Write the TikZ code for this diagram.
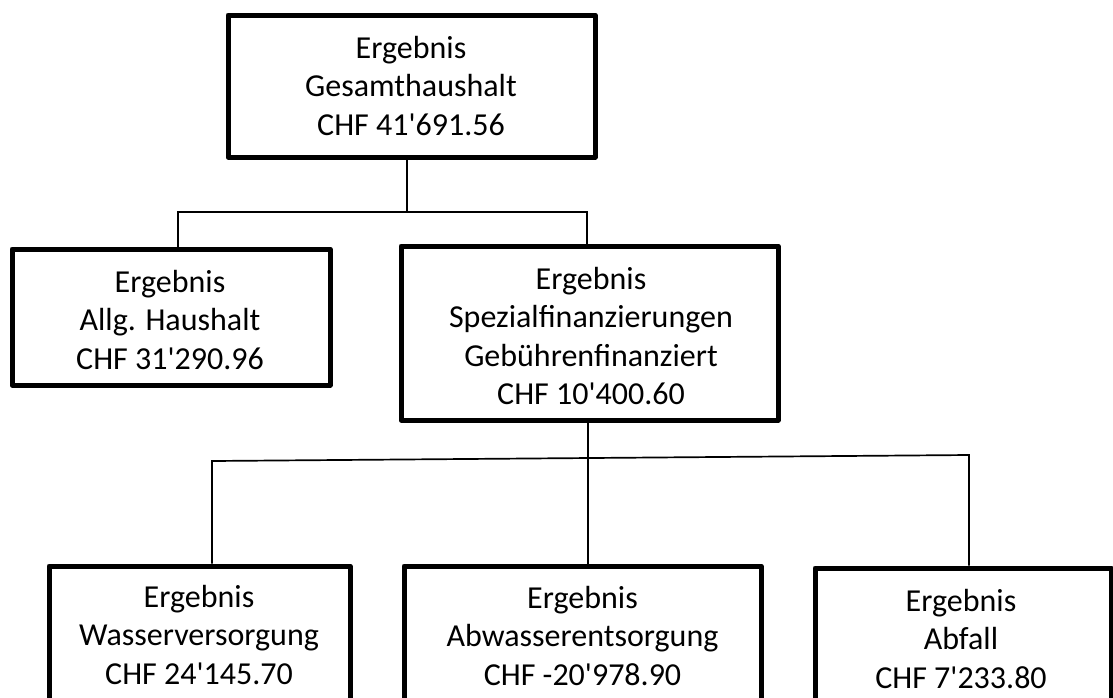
\documentclass[tikz,border=0pt]{standalone}
\usepackage{fontspec}
\setmainfont{Carlito}
\newcommand{\apos}{\textquotesingle}
\begin{document}
\begin{tikzpicture}[x=1pt,y=-1pt,
  box/.style={draw=black, line width=5pt, line join=round, rectangle, inner sep=0pt, fill=white},
  txt/.style={align=center, inner sep=0pt, font=\fontsize{32}{38.5}\selectfont},
  conn/.style={draw=black, line width=1.7pt}]
\useasboundingbox (0,0) rectangle (1113,697);
\clip (0,0) rectangle (1113,697);
\fill[white] (0,0) rectangle (1113,697);
% boxes
\node[box, minimum width=367pt, minimum height=142pt] (top) at (411.5,86) {};
\node[box, minimum width=318pt, minimum height=136pt] (allg) at (171,317) {};
\node[box, minimum width=377pt, minimum height=174pt] (spez) at (589.5,333) {};
\node[box, minimum width=301pt, minimum height=200pt] (wass) at (199.5,666) {};
\node[box, minimum width=357pt, minimum height=200pt] (abw) at (582.5,666) {};
\node[box, minimum width=296pt, minimum height=200pt] (abf) at (963,668) {};
% texts
\node[txt] (topt) at (411,86) {Ergebnis\\Gesamthaushalt\\CHF 41\apos691.56};
\node[txt] (allgt) at (170,320) {Ergebnis\\Allg. Haushalt\\CHF 31\apos290.96};
\node[txt] (spezt) at (591,336) {Ergebnis\\Spezialfinanzierungen\\Gebührenfinanziert\\CHF 10\apos400.60};
\node[txt] (wasst) at (199,635) {Ergebnis\\Wasserversorgung\\CHF 24\apos145.70};
\node[txt] (abwt) at (582.5,636) {Ergebnis\\Abwasserentsorgung\\CHF -20\apos978.90};
\node[txt] (abft) at (961,639) {Ergebnis\\Abfall\\CHF 7\apos233.80};
% connectors
\coordinate (j0) at (407,212);
\coordinate (b1l) at (178,212);
\coordinate (b1r) at (587,212);
\coordinate (b2l) at (212,461);
\coordinate (b2m) at (588,459);
\coordinate (b2r) at (969,455);
\draw[conn] (top.south -| j0) -- (j0);
\draw[conn] (allg.north -| b1l) -- (b1l) -- (b1r) -- (spez.north -| b1r);
\draw[conn] (wass.north -| b2l) -- (b2l) -- (b2r) -- (abf.north -| b2r);
\draw[conn] (spez.south -| b2m) -- (abw.north -| b2m);
\end{tikzpicture}
\end{document}
